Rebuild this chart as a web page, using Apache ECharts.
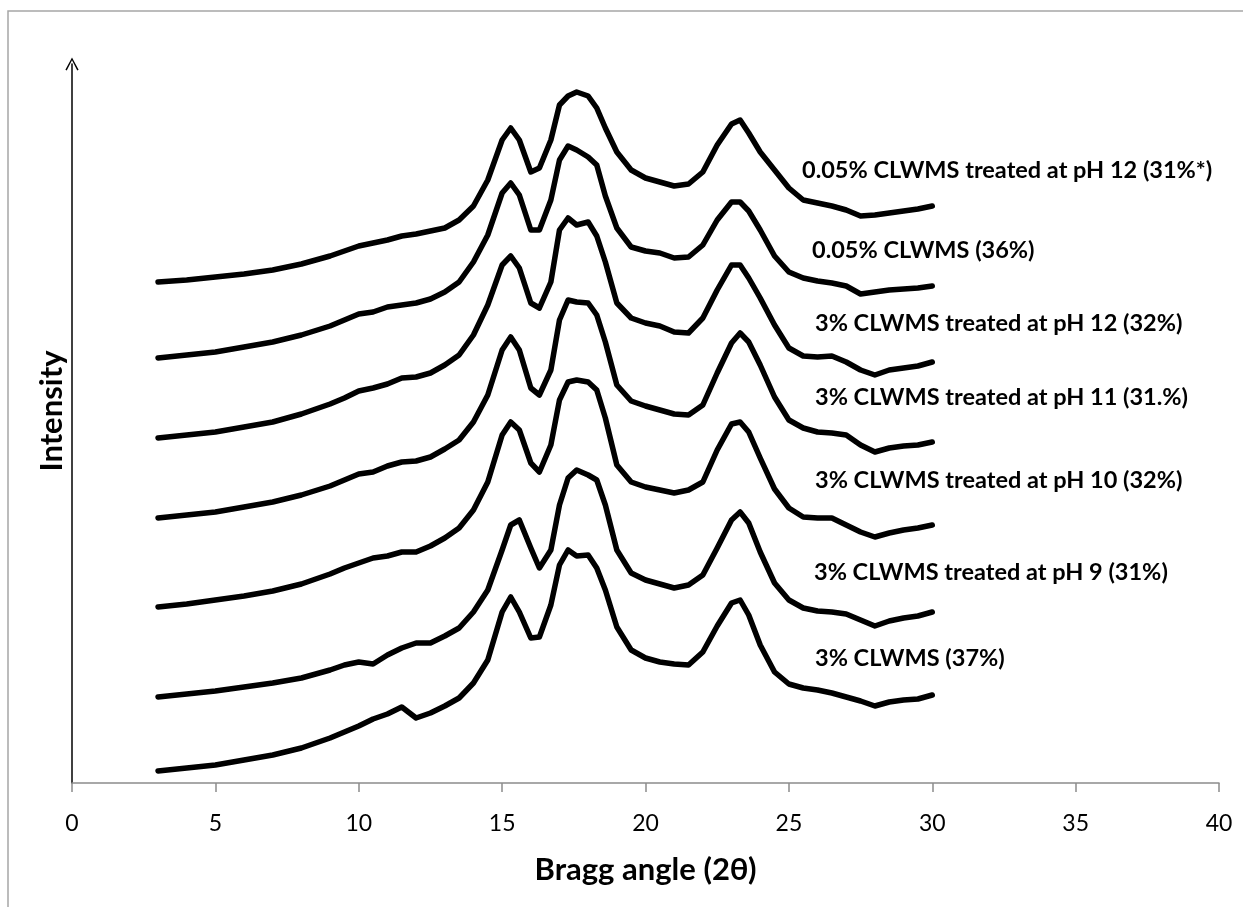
<!DOCTYPE html>
<html>
<head>
<meta charset="utf-8">
<script src="https://cdn.jsdelivr.net/npm/echarts@6/dist/echarts.min.js"></script>
<style>
  html, body { margin: 0; padding: 0; background: #fff; }
  #chart { width: 1243px; height: 907px; }
</style>
</head>
<body>
<div id="chart"></div>
<script>
// Bragg angle (2θ) sample points
var angles = [3,4,5,6,7,8,9,9.5,10,10.5,11,11.5,12,12.5,13,13.5,14,14.5,15,15.3,15.6,16,16.3,16.7,17,17.3,17.6,18,18.3,18.6,19,19.5,20,20.5,21,21.5,22,22.5,23,23.3,23.6,24,24.5,25,25.5,26,26.5,27,27.5,28,28.5,29,29.5,30];

// intensity (stacked, arbitrary units)
var ph12_005 = [501,503,506,509,513,519,527,532,537,540,543,547,549,552,555,563,577,603,643,655,643,611,615,643,678,687,691,687,675,655,631,613,605,601,597,599,611,638,659,663,650,631,613,595,583,580,577,573,567,568,570,572,574,577];
var plain_005 = [425,428,431,436,441,448,457,463,469,471,476,478,480,484,491,501,521,548,590,600,588,553,553,583,623,637,633,626,618,587,555,536,532,530,525,526,538,563,581,581,572,553,527,511,505,502,500,497,489,491,493,494,495,497];
var ph12_3 = [345,348,351,356,361,369,379,385,392,395,399,405,406,410,418,428,448,478,518,527,515,480,475,501,553,565,558,561,547,521,480,465,460,457,451,450,465,493,518,518,505,485,458,435,427,426,427,421,413,408,413,415,417,421];
var ph11_3 = [265,268,271,276,281,288,297,303,309,311,317,321,322,326,334,343,361,388,433,446,433,395,388,413,463,483,481,480,468,441,398,382,377,373,369,368,378,410,440,450,441,418,386,363,355,351,350,348,338,331,335,337,338,341];
var ph10_3 = [176,179,183,187,192,199,209,215,220,225,227,231,231,237,245,255,273,301,348,361,353,320,311,338,383,401,403,401,393,365,318,301,296,293,290,293,301,333,359,361,351,325,294,275,266,265,265,258,251,246,250,253,255,258];
var ph9_3 = [86,89,92,96,100,105,113,118,121,119,128,135,140,140,147,155,171,193,233,258,263,235,215,233,278,305,313,308,303,278,233,210,203,199,195,198,208,235,263,271,260,231,200,183,175,172,171,169,163,157,162,165,167,171];
var plain_3 = [12,15,18,23,28,35,45,51,57,64,69,76,65,70,77,85,100,123,171,186,171,145,146,178,218,233,227,228,215,193,156,133,125,121,119,118,131,157,180,183,168,138,111,99,95,93,90,86,82,77,81,83,84,88];

var seriesNames = [
  '0.05% CLWMS treated at pH 12 (31%*)',
  '0.05% CLWMS (36%)',
  '3% CLWMS treated at pH 12 (32%)',
  '3% CLWMS treated at pH 11 (31.%)',
  '3% CLWMS treated at pH 10 (32%)',
  '3% CLWMS treated at pH 9 (31%)',
  '3% CLWMS (37%)'
];
var seriesData = [ph12_005, plain_005, ph12_3, ph11_3, ph10_3, ph9_3, plain_3];

var xTicks = [0, 5, 10, 15, 20, 25, 30, 35, 40];

// label placement on the right (left x, middle y)
var labelPos = [[802,170],[812,250],[815,323],[815,397],[815,480],[814,572],[815,658]];

var myChart = echarts.init(document.getElementById('chart'));

var series = seriesData.map(function (vals, i) {
  return {
    name: seriesNames[i],
    type: 'line',
    showSymbol: false,
    silent: true,
    data: angles.map(function (a, j) { return [a, vals[j]]; }),
    lineStyle: { color: '#000', width: 5.5, join: 'round', cap: 'round' }
  };
});

var graphics = [{
  type: 'rect',
  shape: { x: 8, y: 11, width: 1400, height: 1000 },
  style: { fill: null, stroke: '#a6a6a6', lineWidth: 1.5 },
  silent: true
}, {
  type: 'text',
  x: 52, y: 411,
  rotation: Math.PI / 2,
  style: {
    text: 'Intensity',
    font: 'bold 31px Lato',
    fill: '#000',
    textAlign: 'center',
    textVerticalAlign: 'middle'
  }
}];
labelPos.forEach(function (p, i) {
  graphics.push({
    type: 'text',
    x: p[0], y: p[1],
    style: {
      text: seriesNames[i],
      font: 'bold 23.5px Lato',
      fill: '#000',
      textVerticalAlign: 'middle'
    }
  });
});

myChart.setOption({
  animation: false,
  backgroundColor: '#fff',
  grid: { left: 72, right: 24, top: 64, bottom: 124 },
  xAxis: {
    type: 'value',
    min: 0, max: 40, interval: 5,
    offset: 7,
    axisLine: { lineStyle: { color: '#8c8c8c', width: 1.5 } },
    axisTick: { length: 9, lineStyle: { color: '#8c8c8c', width: 1.5 } },
    axisLabel: {
      color: '#000', fontFamily: 'Lato', fontSize: 23, margin: 22,
      formatter: function (v) { return xTicks.indexOf(v) >= 0 ? String(v) : ''; }
    },
    splitLine: { show: false },
    name: 'Bragg angle (2θ)',
    nameLocation: 'middle',
    nameGap: 64,
    nameTextStyle: { color: '#000', fontFamily: 'Lato', fontWeight: 'bold', fontSize: 31 }
  },
  yAxis: {
    type: 'value',
    min: 0, max: 719,
    axisLine: {
      show: true,
      lineStyle: { color: '#000', width: 1.5 },
      symbol: ['none', 'path://M0,13 L7,0 L14,13 L12.6,13.8 L7,3 L1.4,13.8 Z'],
      symbolSize: [14, 13]
    },
    axisTick: { show: false },
    axisLabel: { show: false },
    splitLine: { show: false }
  },
  graphic: graphics,
  series: series
});
</script>
</body>
</html>
